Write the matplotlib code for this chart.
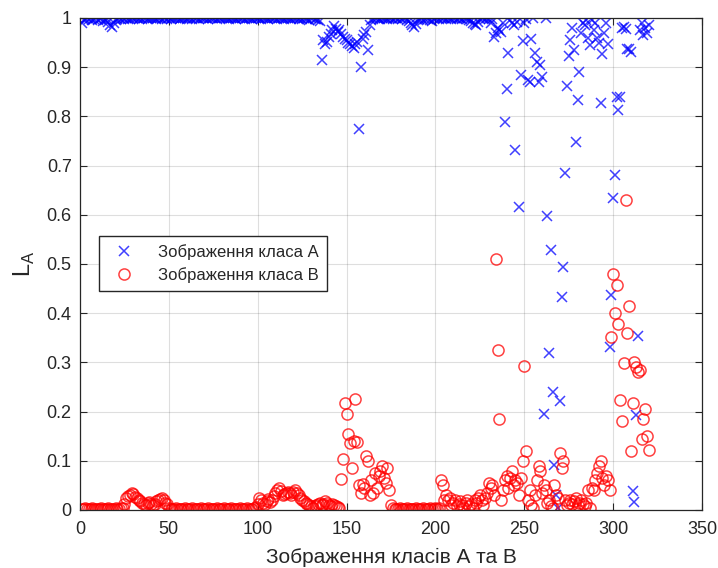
import numpy as np
import matplotlib
matplotlib.use("Agg")
import matplotlib.pyplot as plt

# L_A values per image, class A (index 1..320)
class_a = [
    0.990, 0.995, 0.998, 1.000, 0.997, 0.999, 0.996, 0.998, 1.000, 0.995,
    0.997, 0.999, 0.993, 0.996, 0.998, 0.992, 0.985, 0.982, 0.990, 0.996,
    0.998, 0.999, 0.997, 1.000, 0.998, 0.999, 0.997, 0.998, 1.000, 0.999,
    0.999, 1.000, 0.998, 0.999, 0.997, 1.000, 0.999, 0.998, 1.000, 0.999,
    1.000, 0.999, 0.998, 1.000, 0.999, 0.997, 0.999, 1.000, 0.998, 0.999,
    0.998, 1.000, 0.999, 0.999, 1.000, 0.998, 0.999, 1.000, 0.999, 0.998,
    1.000, 0.999, 0.998, 0.999, 1.000, 0.999, 0.998, 1.000, 0.999, 1.000,
    0.999, 0.998, 1.000, 0.999, 0.999, 1.000, 0.998, 0.999, 1.000, 0.999,
    1.000, 0.999, 0.999, 0.998, 1.000, 0.999, 1.000, 0.998, 0.999, 1.000,
    0.999, 1.000, 0.998, 0.999, 1.000, 0.999, 0.998, 1.000, 0.999, 0.999,
    1.000, 0.998, 0.999, 1.000, 0.999, 0.998, 1.000, 0.999, 0.999, 1.000,
    0.998, 0.999, 1.000, 0.999, 0.998, 1.000, 0.999, 1.000, 0.998, 0.999,
    0.999, 1.000, 0.998, 0.999, 0.997, 0.999, 1.000, 0.998, 0.996, 0.999,
    0.999, 0.998, 0.997, 0.995, 0.993, 0.915, 0.955, 0.948, 0.952, 0.962,
    0.968, 0.976, 0.983, 0.978, 0.972, 0.975, 0.968, 0.962, 0.958, 0.955,
    0.950, 0.947, 0.944, 0.940, 0.948, 0.952, 0.775, 0.900, 0.958, 0.965,
    0.972, 0.934, 0.985, 0.995, 0.998, 0.999, 1.000, 0.997, 0.998, 0.999,
    1.000, 0.999, 0.998, 0.999, 1.000, 0.998, 0.999, 1.000, 0.997, 0.999,
    0.998, 1.000, 0.999, 0.996, 0.993, 0.990, 0.986, 0.982, 0.988, 0.995,
    0.998, 0.999, 0.996, 0.998, 1.000, 0.997, 0.995, 0.993, 0.997, 0.999,
    1.000, 0.998, 0.999, 1.000, 0.999, 0.998, 1.000, 0.999, 0.997, 1.000,
    0.999, 0.998, 1.000, 0.999, 0.997, 0.999, 1.000, 0.998, 0.996, 0.993,
    0.990, 0.987, 0.985, 0.992, 0.997, 0.999, 1.000, 0.998, 0.999, 0.997,
    0.990, 0.998, 0.962, 0.970, 0.980, 0.975, 0.972, 0.990, 0.788, 0.855,
    0.928, 0.995, 0.990, 0.985, 0.732, 0.992, 0.616, 0.884, 0.954, 0.990,
    0.998, 0.875, 0.870, 0.958, 0.999, 0.928, 0.910, 0.870, 0.905, 0.880,
    0.195, 0.999, 0.598, 0.320, 0.528, 0.239, 0.091, 0.030, 0.005, 0.222,
    0.432, 0.493, 0.684, 0.862, 0.922, 0.955, 0.980, 0.935, 0.747, 0.833,
    0.891, 0.970, 0.990, 0.985, 0.995, 0.960, 0.945, 0.995, 0.975, 0.990,
    0.960, 0.950, 0.827, 0.927, 0.970, 0.990, 0.947, 0.332, 0.438, 0.634,
    0.680, 0.839, 0.812, 0.839, 0.980, 0.981, 0.978, 0.936, 0.938, 0.930,
    0.039, 0.017, 0.193, 0.354, 0.975, 0.990, 0.965, 0.980, 0.970, 0.985,
]

# L_A values per image, class B (index 1..320)
class_b = [
    0.003, 0.002, 0.004, 0.003, 0.002, 0.003, 0.004, 0.002, 0.003, 0.003,
    0.002, 0.004, 0.003, 0.002, 0.003, 0.004, 0.003, 0.002, 0.003, 0.004,
    0.003, 0.002, 0.004, 0.005, 0.012, 0.024, 0.028, 0.030, 0.034, 0.032,
    0.027, 0.025, 0.020, 0.018, 0.015, 0.012, 0.010, 0.014, 0.016, 0.012,
    0.010, 0.013, 0.018, 0.020, 0.022, 0.025, 0.020, 0.015, 0.012, 0.005,
    0.003, 0.002, 0.003, 0.004, 0.002, 0.003, 0.003, 0.002, 0.004, 0.003,
    0.002, 0.003, 0.004, 0.003, 0.002, 0.003, 0.002, 0.004, 0.003, 0.002,
    0.003, 0.004, 0.002, 0.003, 0.003, 0.002, 0.004, 0.003, 0.002, 0.003,
    0.004, 0.003, 0.002, 0.003, 0.004, 0.002, 0.003, 0.003, 0.002, 0.004,
    0.003, 0.002, 0.003, 0.004, 0.003, 0.002, 0.003, 0.004, 0.006, 0.012,
    0.024, 0.020, 0.015, 0.012, 0.018, 0.022, 0.017, 0.020, 0.028, 0.035,
    0.040, 0.044, 0.038, 0.030, 0.032, 0.034, 0.037, 0.035, 0.030, 0.036,
    0.040, 0.035, 0.030, 0.025, 0.020, 0.018, 0.015, 0.012, 0.010, 0.008,
    0.005, 0.008, 0.010, 0.012, 0.015, 0.010, 0.012, 0.018, 0.015, 0.010,
    0.008, 0.012, 0.010, 0.008, 0.006, 0.005, 0.064, 0.103, 0.217, 0.196,
    0.154, 0.137, 0.085, 0.140, 0.225, 0.138, 0.050, 0.034, 0.052, 0.045,
    0.110, 0.100, 0.030, 0.060, 0.035, 0.075, 0.045, 0.070, 0.080, 0.090,
    0.065, 0.055, 0.085, 0.040, 0.010, 0.004, 0.003, 0.002, 0.003, 0.004,
    0.003, 0.002, 0.003, 0.004, 0.002, 0.003, 0.003, 0.002, 0.004, 0.003,
    0.002, 0.003, 0.004, 0.003, 0.002, 0.003, 0.004, 0.002, 0.003, 0.004,
    0.003, 0.005, 0.060, 0.050, 0.020, 0.030, 0.020, 0.025, 0.010, 0.015,
    0.020, 0.008, 0.012, 0.018, 0.010, 0.005, 0.015, 0.020, 0.008, 0.012,
    0.005, 0.020, 0.015, 0.025, 0.030, 0.020, 0.010, 0.025, 0.035, 0.055,
    0.045, 0.050, 0.030, 0.511, 0.325, 0.184, 0.020, 0.040, 0.060, 0.070,
    0.045, 0.065, 0.080, 0.050, 0.060, 0.055, 0.030, 0.065, 0.100, 0.293,
    0.120, 0.020, 0.040, 0.010, 0.005, 0.030, 0.060, 0.090, 0.080, 0.035,
    0.050, 0.040, 0.015, 0.020, 0.008, 0.005, 0.050, 0.030, 0.025, 0.116,
    0.086, 0.100, 0.020, 0.010, 0.015, 0.020, 0.012, 0.018, 0.025, 0.010,
    0.015, 0.020, 0.012, 0.008, 0.015, 0.040, 0.005, 0.045, 0.040, 0.060,
    0.075, 0.090, 0.100, 0.065, 0.050, 0.070, 0.060, 0.040, 0.352, 0.480,
    0.401, 0.457, 0.379, 0.224, 0.180, 0.298, 0.630, 0.359, 0.415, 0.119,
    0.217, 0.300, 0.290, 0.280, 0.285, 0.145, 0.185, 0.205, 0.150, 0.121,
]

labels = ["Зображення класа А", "Зображення класа В"]
x_ticks = [0, 50, 100, 150, 200, 250, 300, 350]
y_ticks = [0, 0.1, 0.2, 0.3, 0.4, 0.5, 0.6, 0.7, 0.8, 0.9, 1]
y_ticklabels = ['0', '0.1', '0.2', '0.3', '0.4', '0.5', '0.6', '0.7', '0.8', '0.9', '1']

plt.rcParams['font.family'] = ['Liberation Sans', 'DejaVu Sans']
txt = '#262626'

fig = plt.figure(figsize=(7.18, 5.68), dpi=100)
ax = fig.add_axes([80/718, 58/568, 622/718, 492/568])

xa = np.arange(1, len(class_a) + 1)
xb = np.arange(1, len(class_b) + 1)
ax.plot(xa, class_a, 'x', color='blue', ms=7, mew=1.1, alpha=0.75, label=labels[0])
ax.plot(xb, class_b, 'o', mfc='none', mec='red', ms=8, mew=1.1, alpha=0.75, label=labels[1])

ax.set_xlim(0, 350)
ax.set_ylim(0, 1)
ax.set_xticks(x_ticks)
ax.set_yticks(y_ticks)
ax.set_yticklabels(y_ticklabels)
ax.grid(True, color='#262626', alpha=0.15, lw=0.8)
ax.tick_params(direction='in', top=True, right=True, labelsize=13, colors=txt, length=5)
ax.tick_params(axis='x', pad=8)
ax.tick_params(axis='y', pad=6)
for s in ax.spines.values():
    s.set_color(txt)
    s.set_linewidth(0.9)

ax.set_xlabel("Зображення класів А та В", fontsize=15, color=txt, labelpad=7)
ax.set_ylabel("L$_\\mathregular{A}$", fontsize=17, color=txt, labelpad=7)

leg = ax.legend(loc='upper left', bbox_to_anchor=(0.031, 0.557), borderaxespad=0,
                fontsize=12, fancybox=False, framealpha=1, edgecolor=txt,
                handlelength=2.0, handletextpad=1.0, borderpad=0.5, labelspacing=0.4)
for t in leg.get_texts():
    t.set_color(txt)

fig.savefig('out.png', dpi=100)
